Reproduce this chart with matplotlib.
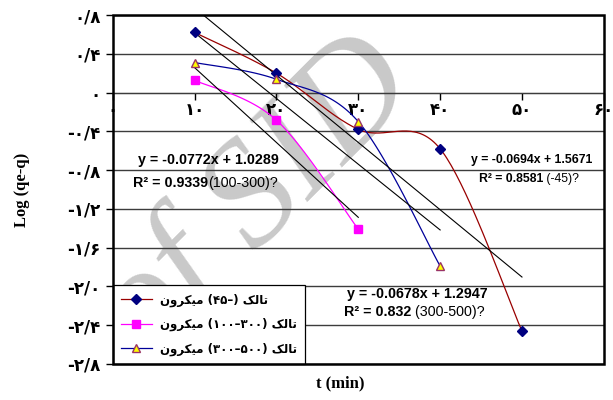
import numpy as np
import matplotlib
matplotlib.use("Agg")
import matplotlib.pyplot as plt
from matplotlib.patches import Rectangle

# ---------------- data ----------------
time_s1 = [10, 20, 30, 40, 50]
logq_s1 = [0.62, 0.20, -0.38, -0.58, -2.46]
time_s2 = [10, 20, 30]
logq_s2 = [0.127, -0.285, -1.41]
time_s3 = [10, 20, 30, 40]
logq_s3 = [0.31, 0.137, -0.30, -1.79]

trend_slopes = [-0.0694, -0.0772, -0.0678]
trend_intercepts = [1.5671, 1.0289, 1.2947]
trend_ranges = [(10, 50), (10, 30), (10, 40)]

xticks = [0, 10, 20, 30, 40, 50, 60]
xtick_labels = ["\u06f0", "\u06f1\u06f0", "\u06f2\u06f0", "\u06f3\u06f0",
                "\u06f4\u06f0", "\u06f5\u06f0", "\u06f6\u06f0"]
yticks = [0.8, 0.4, 0.0, -0.4, -0.8, -1.2, -1.6, -2.0, -2.4, -2.8]
SEP = "/"
ytick_labels = ["\u06f0" + SEP + "\u06f8", "\u06f0" + SEP + "\u06f4", "\u06f0",
                "-\u06f0" + SEP + "\u06f4", "-\u06f0" + SEP + "\u06f8",
                "-\u06f1" + SEP + "\u06f2", "-\u06f1" + SEP + "\u06f6",
                "-\u06f2" + SEP + "\u06f0", "-\u06f2" + SEP + "\u06f4",
                "-\u06f2" + SEP + "\u06f8"]

# Persian words in visual (left-to-right) order with presentation forms
MIKRON = "\ufee5\ufeed\ufeae\ufb91\ufbff\ufee3"
TALK = "\ufb8f\ufedf\ufe8e\ufe97"
series_labels = [
    MIKRON + " (\u06f4\u06f5\u2013) " + TALK,
    MIKRON + " (\u06f1\u06f0\u06f0\u2013\u06f3\u06f0\u06f0) " + TALK,
    MIKRON + " (\u06f3\u06f0\u06f0\u2013\u06f5\u06f0\u06f0) " + TALK,
]

# ---------------- helpers ----------------
def smooth(xs, ys, n=40):
    p = np.column_stack([xs, ys]).astype(float)
    out = []
    m = len(p)
    t = np.linspace(0, 1, n)[:, None]
    for i in range(m - 1):
        p0 = p[max(i - 1, 0)]
        p1 = p[i]
        p2 = p[i + 1]
        p3 = p[min(i + 2, m - 1)]
        c1 = p1 + (p2 - p0) / 6.0
        c2 = p2 - (p3 - p1) / 6.0
        seg = ((1 - t) ** 3) * p1 + 3 * ((1 - t) ** 2) * t * c1 + 3 * (1 - t) * t ** 2 * c2 + t ** 3 * p2
        out.append(seg if i == 0 else seg[1:])
    s = np.vstack(out)
    return s[:, 0], s[:, 1]

# ---------------- figure ----------------
fig = plt.figure(figsize=(6.13, 4.0), dpi=100)
fig.patch.set_facecolor("white")
ax = fig.add_axes([0.184, 0.09, 0.801, 0.8725])
ax.set_facecolor("none")

# watermark
fig.text(0.42, 0.5, "of SID", rotation=45, fontsize=108, family="Liberation Serif",
         style="italic", color="#c9c9c9", ha="center", va="center", zorder=-5)

ax.set_xlim(0, 60)
ax.set_ylim(-2.8, 0.8)

# gridlines
for yv in yticks:
    ax.axhline(yv, color="#3c3c3c", lw=1.0, zorder=1)

# series
c1_line, c1_mark = "#990000", "#000080"
sx, sy = smooth(time_s1, logq_s1)
ax.plot(sx, sy, color=c1_line, lw=0.9, zorder=3)
ax.plot(time_s1, logq_s1, ls="none", marker="D", ms=5, mfc=c1_mark, mec=c1_mark, zorder=5)

sx, sy = smooth(time_s2, logq_s2)
ax.plot(sx, sy, color="#ff00ff", lw=0.9, zorder=3)
ax.plot(time_s2, logq_s2, ls="none", marker="s", ms=6, mfc="#ff00ff", mec="#ff00ff", zorder=5)

sx, sy = smooth(time_s3, logq_s3)
ax.plot(sx, sy, color="#000099", lw=0.9, zorder=3)
ax.plot(time_s3, logq_s3, ls="none", marker="^", ms=6, mfc="#ffff00", mec="#993366", mew=1.0, zorder=5)

# trendlines
for m, b, (x0, x1) in zip(trend_slopes, trend_intercepts, trend_ranges):
    xx = np.array([x0, x1], dtype=float)
    ax.plot(xx, m * xx + b, color="black", lw=0.8, zorder=4)

# legend handles
h1, = ax.plot([], [], color=c1_line, lw=0.9, marker="D", ms=5, mfc=c1_mark, mec=c1_mark)
h2, = ax.plot([], [], color="#ff00ff", lw=0.9, marker="s", ms=6, mfc="#ff00ff", mec="#ff00ff")
h3, = ax.plot([], [], color="#000099", lw=0.9, marker="^", ms=6, mfc="#ffff00", mec="#993366")
leg = ax.legend([h1, h2, h3], series_labels, loc="lower left", bbox_to_anchor=(0, 0),
                borderaxespad=0, fancybox=False, edgecolor="black", framealpha=1,
                prop={"family": ["DejaVu Sans"], "weight": "bold", "size": 8.5},
                handlelength=2.6, labelspacing=0.95, borderpad=0.7, handletextpad=0.7)
leg.get_frame().set_linewidth(0.9)
leg.set_zorder(6)

# axes spines / ticks
for s in ["top", "right", "left"]:
    ax.spines[s].set_visible(False)
ax.spines["bottom"].set_position(("data", 0))
ax.spines["bottom"].set_color("#3c3c3c")
ax.add_patch(Rectangle((0, 0), 1, 1, transform=ax.transAxes, fill=False,
                       ec="black", lw=1.8, zorder=7, clip_on=False))
ax.set_xticks(xticks)
ax.set_xticklabels(xtick_labels, family=["DejaVu Sans"], weight="bold", fontsize=12)
ax.set_yticks(yticks)
ax.set_yticklabels(ytick_labels, family=["DejaVu Sans"], weight="bold", fontsize=12)
ax.tick_params(axis="x", direction="out", length=5, width=1, pad=1)
ax.tick_params(axis="y", direction="out", length=5, width=1, pad=4)

ax.set_ylabel("Log (qe-q)", family="Liberation Serif", weight="bold", fontsize=12)
ax.yaxis.set_label_coords(-0.168, 0.5)
fig.text(0.555, 0.042, "t (min)", family="Liberation Serif", weight="bold", fontsize=12,
         ha="center", va="center")

# equations
eqfont = {"family": "Liberation Sans", "weight": "bold"}
ax.text(3.05, -0.70, "y = -0.0772x + 1.0289", fontsize=10.3, va="center", ha="left", zorder=8, **eqfont)
t1 = ax.text(2.45, -0.935, "R\u00b2 = 0.9339", fontsize=10.3, va="center", ha="left", zorder=8, **eqfont)
ax.annotate("(100-300)?", xy=(1, 0.5), xycoords=t1, va="center", ha="left",
            fontsize=10.3, family="Liberation Sans", zorder=8)

ax.text(58.6, -0.70, "y = -0.0694x + 1.5671", fontsize=8.8, va="center", ha="right", zorder=8, **eqfont)
t2 = ax.text(44.7, -0.895, "R\u00b2 = 0.8581", fontsize=8.8, va="center", ha="left", zorder=8, **eqfont)
ax.annotate(" (-45)?", xy=(1, 0.5), xycoords=t2, va="center", ha="left",
            fontsize=8.8, family="Liberation Sans", zorder=8)

ax.text(28.6, -2.08, "y = -0.0678x + 1.2947", fontsize=10.3, va="center", ha="left", zorder=8, **eqfont)
t3 = ax.text(28.2, -2.265, "R\u00b2 = 0.832", fontsize=10.3, va="center", ha="left", zorder=8, **eqfont)
ax.annotate(" (300-500)?", xy=(1, 0.5), xycoords=t3, va="center", ha="left",
            fontsize=10.3, family="Liberation Sans", zorder=8)

fig.savefig("out.png", dpi=100)
